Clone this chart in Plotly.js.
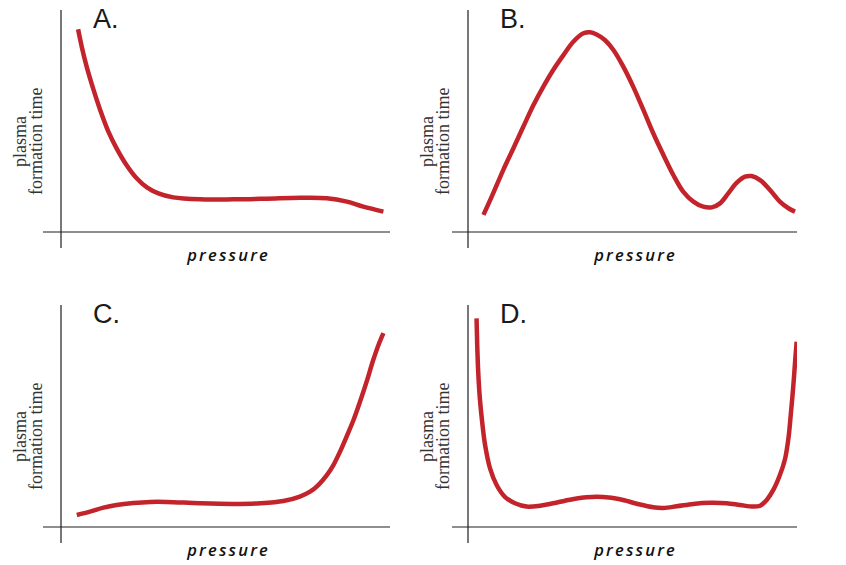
<!DOCTYPE html>
<html>
<head>
<meta charset="utf-8">
<script src="https://cdn.plot.ly/plotly-3.0.1.min.js"></script>
<style>
html,body{margin:0;padding:0;background:#ffffff;}
g.annotation[data-index="0"] text,
g.annotation[data-index="1"] text,
g.annotation[data-index="2"] text,
g.annotation[data-index="3"] text{letter-spacing:2.2px;}
</style>
</head>
<body>
<div id="chart" style="width:846px;height:565px;"></div>
<script>
// ---- data ----
const panelLabels = ['A.', 'B.', 'C.', 'D.'];
const xTitle = 'pressure';
const yTitleTop = 'plasma';
const yTitleBottom = 'formation time';

const pressureA = [0.52, 0.63, 0.78, 0.99, 1.19, 1.44, 1.69, 1.99, 2.30, 2.61, 2.96, 3.41, 4.22, 5.23, 6.25, 7.27, 8.08, 8.69, 9.19, 9.80];
const timeA     = [9.13, 8.35, 7.45, 6.40, 5.50, 4.52, 3.77, 3.02, 2.42, 2.01, 1.74, 1.56, 1.47, 1.47, 1.50, 1.54, 1.52, 1.37, 1.14, 0.92];

const pressureB = [0.47, 0.72, 1.07, 1.38, 1.68, 1.99, 2.29, 2.59, 2.90, 3.20, 3.51, 3.71, 3.91, 4.16, 4.42, 4.72, 5.02, 5.33, 5.63, 5.94, 6.24, 6.54, 6.85, 7.15, 7.41, 7.66, 7.91, 8.17, 8.42, 8.62, 8.88, 9.18, 9.48, 9.74, 9.94];
const timeB     = [0.77, 1.59, 2.79, 3.77, 4.74, 5.72, 6.55, 7.30, 7.97, 8.57, 8.95, 9.00, 8.90, 8.65, 8.20, 7.45, 6.55, 5.50, 4.45, 3.47, 2.57, 1.82, 1.37, 1.14, 1.11, 1.29, 1.74, 2.22, 2.49, 2.52, 2.34, 1.89, 1.37, 1.07, 0.92];

const pressureC = [0.48, 0.88, 1.29, 1.69, 2.20, 2.71, 3.21, 4.22, 5.24, 6.05, 6.76, 7.26, 7.57, 7.82, 8.08, 8.28, 8.48, 8.68, 8.89, 9.09, 9.29, 9.49, 9.65, 9.80];
const timeC     = [0.54, 0.69, 0.87, 0.99, 1.08, 1.13, 1.13, 1.07, 1.04, 1.07, 1.17, 1.37, 1.59, 1.89, 2.34, 2.79, 3.39, 4.07, 4.82, 5.65, 6.55, 7.52, 8.20, 8.73];

const pressureD = [0.26, 0.28, 0.31, 0.36, 0.43, 0.52, 0.67, 0.87, 1.12, 1.43, 1.78, 2.19, 2.59, 3.10, 3.61, 4.11, 4.62, 5.13, 5.63, 5.94, 6.34, 6.85, 7.36, 7.86, 8.27, 8.67, 8.88, 9.08, 9.28, 9.48, 9.64, 9.74, 9.81, 9.89, 9.95, 9.99];
const timeD     = [9.40, 8.20, 7.00, 5.80, 4.74, 3.69, 2.64, 1.89, 1.36, 1.07, 0.92, 0.96, 1.07, 1.23, 1.34, 1.35, 1.25, 1.05, 0.89, 0.86, 0.93, 1.04, 1.09, 1.07, 0.99, 0.92, 0.96, 1.22, 1.67, 2.34, 3.09, 4.00, 5.05, 6.40, 7.60, 8.35];

// ---- layout geometry (pixels) ----
const W = 846, H = 565;
const px = x => x / W;
const py = y => 1 - y / H;
const panels = [
  {left: 61,  top: 10,  right: 390, bottom: 232},
  {left: 468, top: 10,  right: 797, bottom: 232},
  {left: 61,  top: 305, right: 390, bottom: 527},
  {left: 468, top: 305, right: 797, bottom: 527}
];
const series = [[pressureA, timeA], [pressureB, timeB], [pressureC, timeC], [pressureD, timeD]];
const redLine = '#c3242b';
const axisColor = '#1e1e1e';

const traces = series.map((s, i) => ({
  type: 'scatter', mode: 'lines',
  x: s[0], y: s[1],
  xaxis: i === 0 ? 'x' : 'x' + (i + 1),
  yaxis: i === 0 ? 'y' : 'y' + (i + 1),
  line: {color: redLine, width: 4.5, shape: 'spline', smoothing: 1},
  hoverinfo: 'skip', showlegend: false
}));

const layout = {
  width: W, height: H,
  margin: {l: 0, r: 0, t: 0, b: 0},
  paper_bgcolor: '#ffffff', plot_bgcolor: 'rgba(0,0,0,0)',
  showlegend: false,
  shapes: [], annotations: []
};

const axisBase = {range: [0, 10], showgrid: false, zeroline: false, showticklabels: false,
  ticks: '', showline: false, fixedrange: true};

const xOverhang = [18, 16, 18, 16];
panels.forEach((p, i) => {
  const n = i === 0 ? '' : String(i + 1);
  const wpx = p.right - p.left, hpx = p.bottom - p.top;
  layout['xaxis' + n] = Object.assign({}, axisBase, {domain: [px(p.left), px(p.right)], anchor: 'y' + n});
  layout['yaxis' + n] = Object.assign({}, axisBase, {domain: [py(p.bottom), py(p.top)], anchor: 'x' + n});
  layout.shapes.push({type: 'line', xref: 'x' + n + ' domain', yref: 'y' + n + ' domain',
    x0: 0, x1: 0, y0: -16 / hpx, y1: 1, line: {color: axisColor, width: 1.2}});
  layout.shapes.push({type: 'line', xref: 'x' + n + ' domain', yref: 'y' + n + ' domain',
    x0: -xOverhang[i] / wpx, x1: 1, y0: 0, y1: 0, line: {color: axisColor, width: 1.2}});
});

// x titles first (data-index 0..3 get letter spacing)
panels.forEach((p, i) => {
  layout.annotations.push({text: xTitle, xref: 'paper', yref: 'paper',
    x: px(p.left + 167), y: py(p.bottom + 22), xanchor: 'center', yanchor: 'middle', showarrow: false,
    font: {family: 'Open Sans, sans-serif', size: 16.5, style: 'italic', weight: 600, color: '#111111'}});
});
// panel letters
panels.forEach((p, i) => {
  layout.annotations.push({text: panelLabels[i], xref: 'paper', yref: 'paper',
    x: px(p.left + 30), y: py(p.top + 9), xanchor: 'left', yanchor: 'middle', showarrow: false,
    font: {family: 'Liberation Sans, Arial, sans-serif', size: 27, color: '#1a1a1a'}});
});
// y titles (two rotated lines)
panels.forEach((p, i) => {
  const cy = p.top + 132;
  layout.annotations.push({text: yTitleTop, xref: 'paper', yref: 'paper', textangle: -90,
    x: px(p.left - 41), y: py(cy), xanchor: 'center', yanchor: 'middle', showarrow: false,
    font: {family: 'Liberation Serif, Times New Roman, serif', size: 18, color: '#333333'}});
  layout.annotations.push({text: yTitleBottom, xref: 'paper', yref: 'paper', textangle: -90,
    x: px(p.left - 25), y: py(cy), xanchor: 'center', yanchor: 'middle', showarrow: false,
    font: {family: 'Liberation Serif, Times New Roman, serif', size: 18, color: '#333333'}});
});

Plotly.newPlot('chart', traces, layout, {staticPlot: true, displayModeBar: false});
</script>
</body>
</html>
